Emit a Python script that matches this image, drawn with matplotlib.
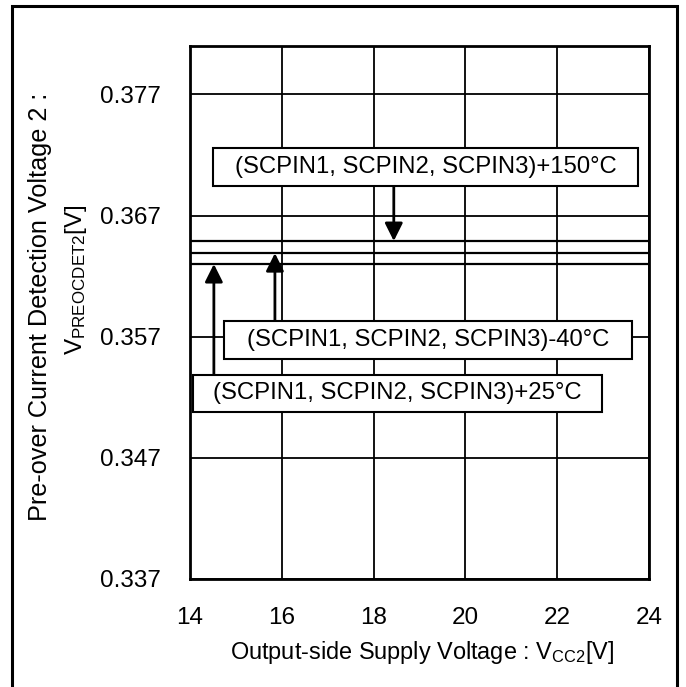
import matplotlib
matplotlib.use("Agg")
import matplotlib.pyplot as plt
from matplotlib.patches import Rectangle

plt.rcParams['font.family'] = ['Liberation Sans', 'DejaVu Sans']
plt.rcParams['mathtext.fontset'] = 'custom'
plt.rcParams['mathtext.rm'] = 'Liberation Sans'
plt.rcParams['mathtext.it'] = 'Liberation Sans'

# supply voltage sweep and detection voltage per temperature
vcc2 = [14, 16, 18, 20, 22, 24]
v_150 = [0.3649, 0.3649, 0.3649, 0.3649, 0.3649, 0.3649]
v_m40 = [0.3639, 0.3639, 0.3639, 0.3639, 0.3639, 0.3639]
v_25 = [0.3630, 0.3630, 0.3630, 0.3630, 0.3630, 0.3630]

labels = ["(SCPIN1, SCPIN2, SCPIN3)+150°C",
          "(SCPIN1, SCPIN2, SCPIN3)-40°C",
          "(SCPIN1, SCPIN2, SCPIN3)+25°C"]
series = [v_150, v_m40, v_25]

xticks = [14, 16, 18, 20, 22, 24]
yticks = [0.337, 0.347, 0.357, 0.367, 0.377]

# label boxes (x0, x1, y0, y1) and arrow x / arrow start
boxes = [(14.50, 23.76, 0.36948, 0.37254),
         (14.74, 23.63, 0.35518, 0.35832),
         (14.07, 22.98, 0.35080, 0.35386)]
arrow_x = [18.44, 15.85, 14.52]
arrow_from = [0.36948, 0.35832, 0.35386]

fig = plt.figure(figsize=(6.86, 6.87), dpi=100)
ax = fig.add_axes([190 / 686, 1 - 579 / 687, 459 / 686, 533 / 687])

for vals in series:
    ax.plot(vcc2, vals, color='black', lw=1.6, zorder=3)

ax.set_xlim(14, 24)
ax.set_ylim(0.337, 0.381)
ax.set_xticks(xticks)
ax.set_yticks(yticks)
ax.set_xticklabels([str(t) for t in xticks])
ax.set_yticklabels([f"{t:.3f}" for t in yticks])
ax.tick_params(length=0, labelsize=17.5)
ax.tick_params(axis='y', pad=21)
ax.tick_params(axis='x', pad=20)
ax.grid(True, color='black', lw=1.3)
for sp in ax.spines.values():
    sp.set_linewidth(2)

for (x0, x1, y0, y1), text, ax_x, y_start, vals in zip(boxes, labels, arrow_x, arrow_from, series):
    ax.add_patch(Rectangle((x0, y0), x1 - x0, y1 - y0, facecolor='white',
                           edgecolor='black', lw=1.5, zorder=5))
    ax.text((x0 + x1) / 2, (y0 + y1) / 2, text, ha='center', va='center',
            fontsize=17.2, zorder=6)
    ax.annotate('', xy=(ax_x, vals[0]), xytext=(ax_x, y_start),
                arrowprops=dict(arrowstyle='-|>', color='black', lw=2,
                                mutation_scale=27, shrinkA=0, shrinkB=0),
                zorder=4)

fig.text(40 / 686, 1 - 307 / 687, "Pre-over Current Detection Voltage 2 :",
         rotation=90, ha='center', va='center', fontsize=18.2)
fig.text(76 / 686, 1 - 280 / 687, r"$\mathregular{V_{PREOCDET2}}$[V]",
         rotation=90, ha='center', va='center', fontsize=17.5)
fig.text(422 / 686, 1 - 652 / 687, r"Output-side Supply Voltage : $\mathregular{V_{CC2}}$[V]",
         ha='center', va='center', fontsize=16.9)

# outer frame
fig.patches.append(Rectangle((12 / 686, -0.05), 665 / 686, 1.05 - 6 / 687,
                             transform=fig.transFigure, fill=False,
                             edgecolor='black', lw=2.2))

fig.savefig("out.png", dpi=100)
